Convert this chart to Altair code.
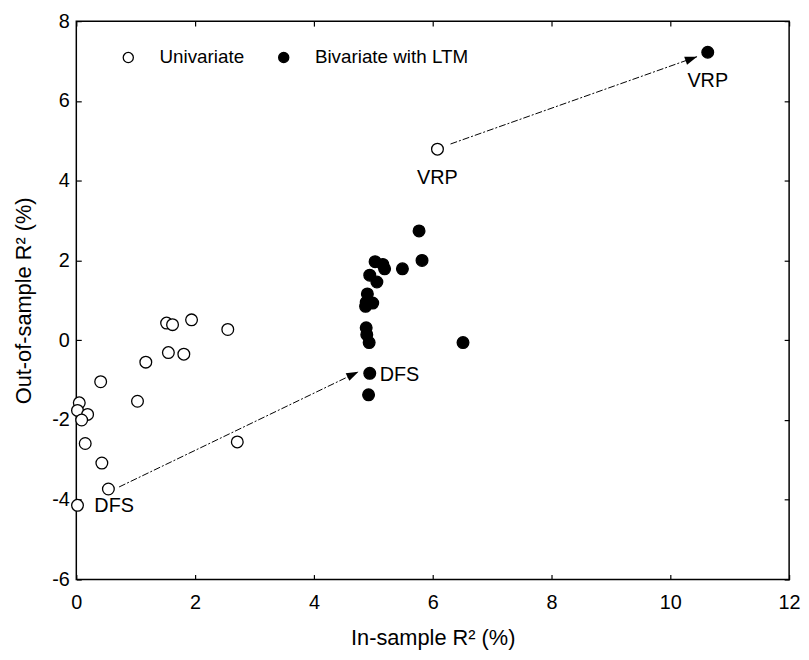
import math
import altair as alt
import pandas as pd

# ---------------- data ----------------
groups = ["Univariate", "Bivariate with LTM"]

uni_x = [1.52, 1.62, 1.94, 2.55, 1.55, 1.81, 1.17, 0.41, 1.03, 0.05,
         0.02, 0.19, 0.09, 0.15, 2.71, 0.43, 0.54, 0.02, 6.08]
uni_y = [0.43, 0.39, 0.51, 0.27, -0.31, -0.35, -0.55, -1.04, -1.53, -1.57,
         -1.76, -1.86, -2.00, -2.59, -2.55, -3.08, -3.73, -4.14, 4.79]

biv_x = [5.77, 5.82, 5.49, 5.03, 5.16, 5.19, 4.94, 5.06, 4.90, 4.88,
         4.99, 4.87, 4.88, 4.89, 4.93, 6.51, 4.94, 4.92, 10.63]
biv_y = [2.74, 2.00, 1.79, 1.97, 1.90, 1.79, 1.63, 1.46, 1.16, 0.95,
         0.93, 0.85, 0.31, 0.14, -0.06, -0.06, -0.83, -1.37, 7.22]

# arrows: start -> end (data units)
arrow_x1 = [6.30, 0.72]
arrow_y1 = [4.92, -3.68]
arrow_x2 = [10.45, 4.75]
arrow_y2 = [7.11, -0.79]

# annotations
vrp_text = ["VRP", "VRP"]
vrp_x = [6.08, 10.63]
vrp_y = [4.79, 7.22]
dfs_uni = {"t": ["DFS"], "x": [0.02], "y": [-4.14]}
dfs_biv = {"t": ["DFS"], "x": [4.94], "y": [-0.83]}

x_ticks = [0, 2, 4, 6, 8, 10, 12]
y_ticks = [-6, -4, -2, 0, 2, 4, 6, 8]
x_domain = [0, 12]
y_domain = [-6, 8]

# ---------------- layout ----------------
W, H = 720, 564
FONT = "Liberation Sans"
X_TITLE = "In-sample R² (%)"
Y_TITLE = "Out-of-sample R² (%)"
LABEL_EXPR = "'' + datum.value"   # plain hyphen minus, as in the reference

pts = pd.DataFrame({
    "x": uni_x + biv_x,
    "y": uni_y + biv_y,
    "group": [groups[0]] * len(uni_x) + [groups[1]] * len(biv_x),
})

px_x = W / (x_domain[1] - x_domain[0])
px_y = H / (y_domain[1] - y_domain[0])
angles = [math.degrees(math.atan2((x2 - x1) * px_x, (y2 - y1) * px_y))
          for x1, y1, x2, y2 in zip(arrow_x1, arrow_y1, arrow_x2, arrow_y2)]
arrows = pd.DataFrame({"x": arrow_x1, "y": arrow_y1, "x2": arrow_x2,
                       "y2": arrow_y2, "angle": angles})

xs = alt.Scale(domain=x_domain, nice=False, zero=False)
ys = alt.Scale(domain=y_domain, nice=False, zero=False)

x_axis = alt.Axis(values=x_ticks, offset=-5, tickSize=5, tickWidth=1.2,
                  tickColor="black", domain=False, grid=False,
                  labelFont=FONT, labelFontSize=20, labelColor="black",
                  labelPadding=13, labelFlush=False, labelExpr=LABEL_EXPR,
                  title=X_TITLE, titleFont=FONT,
                  titleFontSize=22, titleFontWeight="normal",
                  titleColor="black", titlePadding=16)
y_axis = alt.Axis(values=y_ticks, offset=-5, tickSize=5, tickWidth=1.2,
                  tickColor="black", domain=False, grid=False,
                  labelFont=FONT, labelFontSize=20, labelColor="black",
                  labelPadding=7, labelFlush=False, labelExpr=LABEL_EXPR,
                  title=Y_TITLE,
                  titleFont=FONT, titleFontSize=22, titleFontWeight="normal",
                  titleColor="black", titlePadding=16)


def X(field):
    return alt.X(field, type="quantitative", scale=xs, axis=x_axis, title=X_TITLE)


def Y(field):
    return alt.Y(field, type="quantitative", scale=ys, axis=y_axis, title=Y_TITLE)


points = alt.Chart(pts).mark_point(
    shape="circle", filled=True, size=140, stroke="black",
    strokeWidth=1.3, opacity=1
).encode(
    x=X("x"),
    y=Y("y"),
    fill=alt.Fill("group:N",
                  scale=alt.Scale(domain=groups, range=["white", "black"]),
                  legend=alt.Legend(orient="none", legendX=43, legendY=27,
                                    direction="horizontal", title=None,
                                    labelFont=FONT, labelFontSize=19,
                                    labelColor="black", labelOffset=22,
                                    columnPadding=30, symbolSize=105,
                                    symbolStrokeColor="black",
                                    symbolStrokeWidth=1.3, symbolType="circle",
                                    padding=0)),
)

lines = alt.Chart(arrows).mark_rule(
    color="black", strokeWidth=1, strokeDash=[7, 2, 2, 2]
).encode(x=X("x"), y=Y("y"), x2="x2:Q", y2="y2:Q")

heads = alt.Chart(arrows).mark_point(
    shape="M0,0L-0.7,2L0.7,2Z", filled=True, size=150, color="black",
    opacity=1
).encode(x=X("x2"), y=Y("y2"), angle=alt.Angle("angle:Q", scale=None))

vrp_df = pd.DataFrame({"t": vrp_text, "x": vrp_x, "y": vrp_y})
vrp_lbl = alt.Chart(vrp_df).mark_text(
    font=FONT, fontSize=20, color="black", align="center",
    baseline="alphabetic", dy=35
).encode(x=X("x"), y=Y("y"), text="t:N")

dfs1 = alt.Chart(pd.DataFrame(dfs_uni)).mark_text(
    font=FONT, fontSize=20, color="black", align="left",
    baseline="alphabetic", dx=17, dy=7
).encode(x=X("x"), y=Y("y"), text="t:N")

dfs2 = alt.Chart(pd.DataFrame(dfs_biv)).mark_text(
    font=FONT, fontSize=20, color="black", align="left",
    baseline="alphabetic", dx=10, dy=8
).encode(x=X("x"), y=Y("y"), text="t:N")

main = alt.layer(points, lines, heads, vrp_lbl, dfs1, dfs2)

# mirrored inward ticks on the top and right edges (MATLAB box style)
frame = alt.Chart(pts).mark_point(opacity=0).encode(
    x=alt.X("x:Q", scale=xs,
            axis=alt.Axis(orient="top", values=x_ticks, offset=-5,
                          tickSize=5, tickWidth=1.2, tickColor="black",
                          labels=False, domain=False, grid=False, title=None)),
    y=alt.Y("y:Q", scale=ys,
            axis=alt.Axis(orient="right", values=y_ticks, offset=-5,
                          tickSize=5, tickWidth=1.2, tickColor="black",
                          labels=False, domain=False, grid=False, title=None)),
)

chart = alt.layer(main, frame).resolve_axis(
    x="independent", y="independent"
).properties(
    width=W, height=H,
    autosize=alt.AutoSizeParams(type="none"),
    padding={"left": 69, "top": 10, "right": 12, "bottom": 76},
    background="white",
).configure_view(stroke="black", strokeWidth=1.5)

chart.save("out.html", embed_options={"renderer": "svg", "actions": False})
